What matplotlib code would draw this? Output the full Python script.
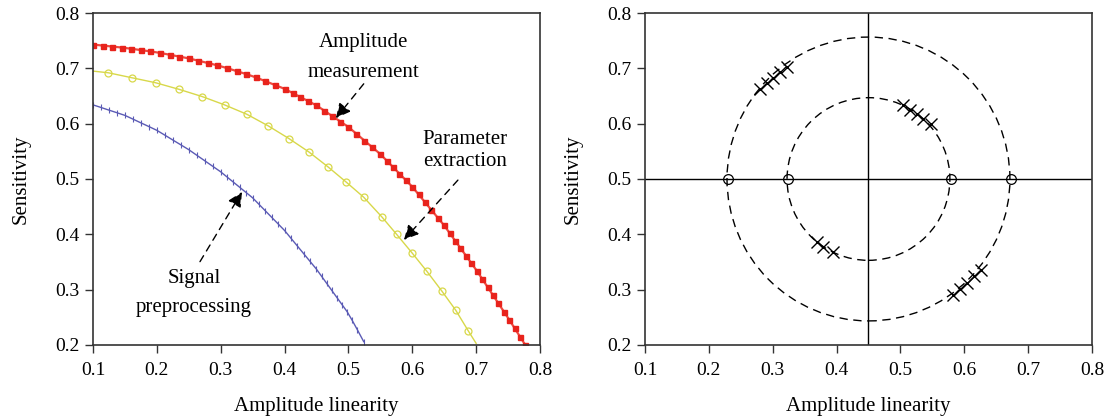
import numpy as np
import matplotlib.pyplot as plt
from matplotlib.patches import Ellipse

plt.rcParams['font.family'] = ['Liberation Serif', 'DejaVu Serif']

# ---- left panel: three sensitivity curves
red_x = [0.100, 0.115, 0.130, 0.145, 0.160, 0.175, 0.190, 0.205, 0.220, 0.235,
         0.250, 0.265, 0.280, 0.295, 0.310, 0.325, 0.340, 0.355, 0.370, 0.385,
         0.400, 0.4125, 0.425, 0.4375, 0.450, 0.4625, 0.475, 0.4875, 0.500, 0.5125,
         0.525, 0.5375, 0.550, 0.560, 0.570, 0.580, 0.590, 0.600, 0.610, 0.620,
         0.630, 0.640, 0.650, 0.6585, 0.667, 0.6755, 0.684, 0.6925, 0.701, 0.7095,
         0.718, 0.7265, 0.735, 0.7435, 0.752, 0.7605, 0.769, 0.777]
red_y = [0.743, 0.7412, 0.7394, 0.7376, 0.7354, 0.733, 0.7306, 0.7279, 0.7246, 0.7213,
         0.718, 0.7138, 0.7096, 0.7054, 0.7004, 0.695, 0.6896, 0.6837, 0.6768, 0.6699,
         0.663, 0.6555, 0.648, 0.6405, 0.633, 0.6233, 0.6135, 0.6038, 0.594, 0.5818,
         0.5695, 0.5573, 0.545, 0.5332, 0.5214, 0.5096, 0.4978, 0.486, 0.472, 0.458,
         0.444, 0.430, 0.416, 0.4024, 0.3888, 0.3752, 0.3616, 0.348, 0.3343, 0.3195,
         0.3047, 0.2899, 0.2751, 0.2603, 0.2454, 0.2300, 0.2146, 0.200]

yel_x = [0.100, 0.124, 0.161, 0.198, 0.235, 0.271, 0.306, 0.341, 0.3745, 0.407,
         0.438, 0.468, 0.497, 0.524, 0.552, 0.5755, 0.600, 0.623, 0.646, 0.668,
         0.688, 0.700]
yel_y = [0.695, 0.692, 0.683, 0.674, 0.662, 0.649, 0.634, 0.617, 0.596, 0.573,
         0.549, 0.522, 0.494, 0.467, 0.432, 0.400, 0.366, 0.333, 0.298, 0.263,
         0.225, 0.203]

blu_x = [0.100, 0.1125, 0.125, 0.1375, 0.150, 0.1625, 0.175, 0.1875, 0.200, 0.2125,
         0.225, 0.2375, 0.250, 0.2625, 0.275, 0.2875, 0.300, 0.310, 0.320, 0.330,
         0.340, 0.350, 0.360, 0.370, 0.380, 0.390, 0.400, 0.410, 0.420, 0.430,
         0.440, 0.450, 0.458, 0.466, 0.474, 0.482, 0.490, 0.498, 0.506, 0.514, 0.524]
blu_y = [0.634, 0.6293, 0.6245, 0.6198, 0.615, 0.6083, 0.6015, 0.5948, 0.588, 0.5793,
         0.5705, 0.5618, 0.553, 0.543, 0.533, 0.523, 0.513, 0.5036, 0.4942, 0.4848,
         0.4754, 0.466, 0.4542, 0.4424, 0.4306, 0.4188, 0.407, 0.393, 0.379, 0.365,
         0.351, 0.337, 0.3242, 0.3114, 0.2986, 0.2858, 0.273, 0.2602, 0.2444, 0.2276, 0.206]

# ---- right panel
center = (0.45, 0.5)
outer_r = (0.2215, 0.2565)   # radii in x / y data units
inner_r = (0.1275, 0.147)
circ_x = [0.230, 0.324, 0.579, 0.673]
circ_y = [0.5, 0.5, 0.5, 0.5]
cross_x = [0.280, 0.2905, 0.301, 0.3115, 0.322,
           0.5045, 0.515, 0.5256, 0.536, 0.5475,
           0.369, 0.3795, 0.395,
           0.5823, 0.5932, 0.6042, 0.6152, 0.6261]
cross_y = [0.6627, 0.6729, 0.683, 0.6933, 0.703,
           0.6338, 0.6247, 0.617, 0.6084, 0.5994,
           0.3867, 0.3777, 0.3686,
           0.2904, 0.3012, 0.312, 0.3238, 0.3356]

ticks = [0.1, 0.2, 0.3, 0.4, 0.5, 0.6, 0.7, 0.8]
yticks = [0.2, 0.3, 0.4, 0.5, 0.6, 0.7, 0.8]

fig = plt.figure(figsize=(11.04, 4.17), dpi=100)
ax1 = fig.add_axes([0.0842, 0.1727, 0.4049, 0.7961])
ax2 = fig.add_axes([0.5842, 0.1727, 0.4049, 0.7961])

ax1.plot(blu_x, blu_y, color='#5b5bb5', lw=1.0, marker='|', ms=4, mew=0.8)
ax1.plot(yel_x, yel_y, color='#d8d84a', lw=1.0, marker='o', ms=5, mfc='none', mew=0.9,
         markevery=list(range(1, len(yel_x) - 1)))
ax1.plot(red_x, red_y, color='#f04a40', lw=1.6, marker='s', ms=3.6, mfc='#e8231c',
         mec='#e8231c')

arrow = dict(arrowstyle='-|>', color='black', lw=1.0, linestyle=(0, (5, 4)),
             mutation_scale=22, shrinkA=0, shrinkB=0)
ax1.text(0.523, 0.72, 'Amplitude\nmeasurement', ha='center', va='center',
         fontsize=15, linespacing=1.8)
ax1.annotate('', xy=(0.4805, 0.610), xytext=(0.524, 0.672), arrowprops=arrow)
ax1.text(0.6825, 0.551, 'Parameter\nextraction', ha='center', va='center',
         fontsize=15, linespacing=1.2)
ax1.annotate('', xy=(0.587, 0.390), xytext=(0.6715, 0.498), arrowprops=arrow)
ax1.text(0.258, 0.294, 'Signal\npreprocessing', ha='center', va='center',
         fontsize=15, linespacing=1.7)
ax1.annotate('', xy=(0.3333, 0.4765), xytext=(0.2676, 0.3506), arrowprops=arrow)

ax2.axhline(0.5, color='black', lw=1.0)
ax2.axvline(0.45, color='black', lw=1.0)
for r in (outer_r, inner_r):
    ax2.add_patch(Ellipse(center, 2 * r[0], 2 * r[1], fill=False, ec='black',
                          lw=1.0, linestyle=(0, (6, 4))))
ax2.plot(circ_x, circ_y, 'o', ms=7, mfc='none', mec='black', mew=0.9)
ax2.plot(cross_x, cross_y, 'x', ms=9, color='black', mew=1.0)

for ax in (ax1, ax2):
    ax.set_xlim(0.1, 0.8)
    ax.set_ylim(0.2, 0.8)
    ax.set_xticks(ticks)
    ax.set_yticks(yticks)
    ax.set_xticklabels([f'{t:.1f}' for t in ticks])
    ax.set_yticklabels([f'{t:.1f}' for t in yticks])
    ax.tick_params(direction='out', length=6, width=1.0, labelsize=14, color='#333333')
    ax.tick_params(axis='x', pad=6)
    for s in ax.spines.values():
        s.set_color('#333333')
        s.set_linewidth(1.2)
    ax.set_xlabel('Amplitude linearity', fontsize=15, labelpad=13)
    ax.set_ylabel('Sensitivity', fontsize=15, labelpad=18)

fig.savefig('out.png', dpi=100)
